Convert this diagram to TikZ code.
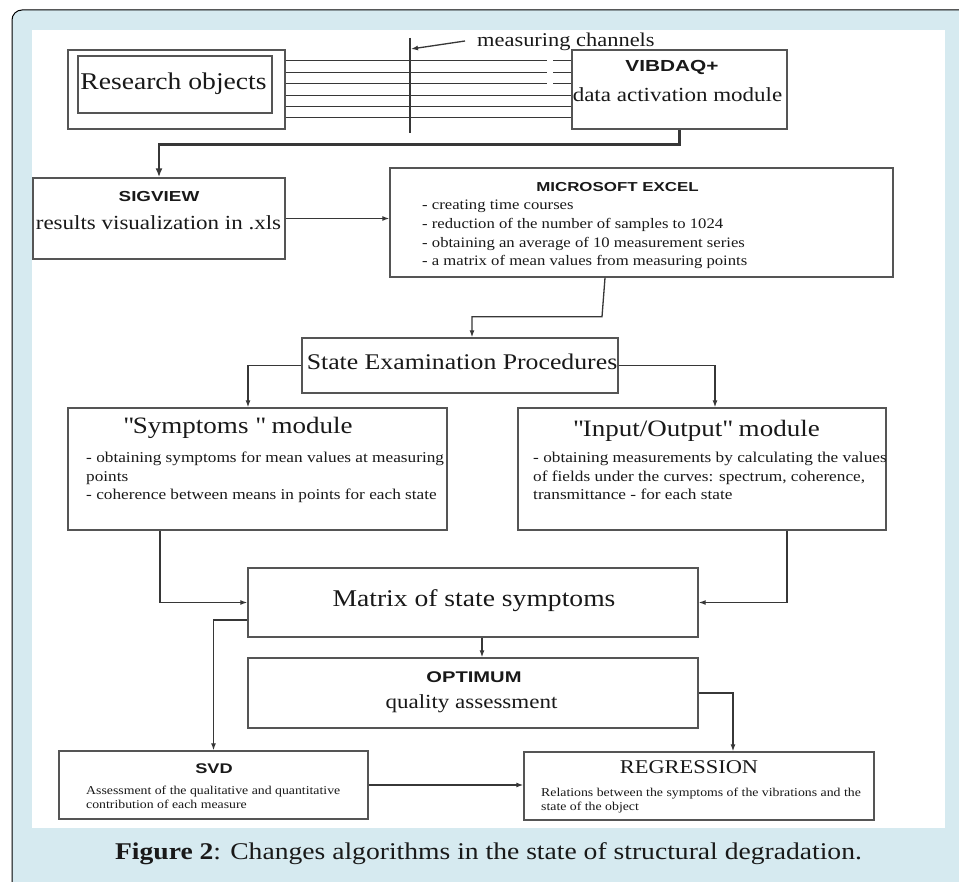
\documentclass[tikz,border=0pt]{standalone}
\usepackage{fontspec}
\setmainfont[FakeStretch=1.15]{Liberation Serif}
\newfontfamily\gothic[FakeStretch=1.3]{Liberation Sans}
\usetikzlibrary{arrows.meta}
\definecolor{capblue}{RGB}{214,234,240}
\definecolor{boxgray}{RGB}{85,85,85}
\definecolor{linegray}{RGB}{55,55,55}
\newcommand{\fs}[2]{\fontsize{#1}{#2}\selectfont}

\begin{document}
\begin{tikzpicture}[x=1pt,y=-1pt,
    box/.style={draw=boxgray,line width=1.4pt,inner sep=0pt},
    con/.style={draw=linegray,line width=1.3pt,->,>={Latex[length=7pt,width=5pt]}},
    txt/.style={inner sep=0pt,anchor=base,text=black!90},
    lst/.style={inner sep=0pt,anchor=north west,align=left,text=black!90}]
    \useasboundingbox (0,0) rectangle (959,882);
    \clip (0,0) rectangle (959,882);
    \fill[white] (0,0) rectangle (959,882);
    \draw[fill=capblue,rounded corners=10,line width=1pt] (12,10) rectangle (985,910);
    \fill[white] (32,30) rectangle (945,828);

    % boxes
    \node (robj) at (176.5,89.5) [box,minimum width=217,minimum height=79] {};
    \node (robjin) at (175,84.5) [box,minimum width=194,minimum height=57] {};
    \node (vib) at (679.5,89.5) [box,minimum width=215,minimum height=79] {};
    \node (sig) at (159,218.5) [box,minimum width=252,minimum height=81] {};
    \node (exc) at (641.5,222.5) [box,minimum width=503,minimum height=109] {};
    \node (sep) at (460,365.5) [box,minimum width=316,minimum height=55] {};
    \node (sym) at (257.5,469) [box,minimum width=379,minimum height=122] {};
    \node (io) at (702,469) [box,minimum width=368,minimum height=122] {};
    \node (mat) at (473,602.5) [box,minimum width=450,minimum height=69] {};
    \node (opt) at (473,693) [box,minimum width=450,minimum height=70] {};
    \node (svd) at (213.5,785) [box,minimum width=309,minimum height=68] {};
    \node (reg) at (699,786) [box,minimum width=350,minimum height=68] {};

    % texts
    \node (tro) at (173.5,90) [txt,font=\fs{24}{24}] {Research objects};
    \node (tvib) at (672,72) [txt,font=\gothic\bfseries\fs{16}{16}] {VIBDAQ+};
    \node (tvib2) at (677.5,102) [txt,font=\fs{20}{20}] {data activation module};
    \node (tsig) at (159,202) [txt,font=\gothic\bfseries\fs{14.5}{14.5}] {SIGVIEW};
    \node (tsig2) at (158.5,230) [txt,font=\fs{20}{20}] {results visualization in .xls};
    \node (texc) at (617.5,192) [txt,font=\gothic\bfseries\fs{13}{13}] {MICROSOFT EXCEL};
    \node (lexc) at (422,200) [lst,font=\fs{14.5}{18.7}] {- creating time courses\\
      - reduction of the number of samples to 1024\\
      - obtaining an average of 10 measurement series\\
      - a matrix of mean values from measuring points};
    \node (tsep) at (462,370) [txt,font=\fs{22.4}{22.4}] {State Examination Procedures};
    \node (tsym) at (238,434) [txt,font=\fs{23.5}{23.5}] {\textquotedbl Symptoms \textquotedbl{} module};
    \node (lsym) at (86,452) [lst,font=\fs{15}{18.5}] {- obtaining symptoms for mean values at measuring\\
      points\\
      - coherence between means in points for each state};
    \node (tio) at (696.5,437) [txt,font=\fs{23.5}{23.5}] {\textquotedbl Input/Output\textquotedbl{} module};
    \node (lio) at (533,452) [lst,font=\fs{15}{18.5}] {- obtaining measurements by calculating the values\\
      of fields under the curves: spectrum, coherence,\\
      transmittance - for each state};
    \node (tmat) at (474,606) [txt,font=\fs{24}{24}] {Matrix of state symptoms};
    \node (topt) at (474,682) [txt,font=\gothic\bfseries\fs{15.5}{15.5}] {OPTIMUM};
    \node (topt2) at (471.5,708) [txt,font=\fs{20}{20}] {quality assessment};
    \node (tsvd) at (214,773) [txt,font=\gothic\bfseries\fs{14}{14}] {SVD};
    \node (lsvd) at (86,786) [lst,font=\fs{12}{14}] {Assessment of the qualitative and quantitative\\
      contribution of each measure};
    \node (treg) at (689,773) [txt,font=\fs{19.5}{19.5}] {REGRESSION};
    \node (lreg) at (541,788) [lst,font=\fs{12}{14}] {Relations between the symptoms of the vibrations and the\\
      state of the object};

    % measuring channels
    \foreach \i in {0,...,5}{
      \pgfmathsetmacro{\yy}{61+11.4*\i}
      \ifnum\i<3
        \draw[draw=linegray,line width=1pt] (robj.east |- 0,\yy) -- (547,\yy);
        \draw[draw=linegray,line width=1pt] (553,\yy) -- (vib.west |- 0,\yy);
      \else
        \draw[draw=linegray,line width=1pt] (robj.east |- 0,\yy) -- (vib.west |- 0,\yy);
      \fi
    }
    \draw[draw=linegray,line width=1.2pt] (410,38) -- (410,133);
    \coordinate (chtail) at (465,41);
    \draw[con] (chtail) -- (411,49);
    \node (tch) at (477,47) [txt,anchor=base west,font=\fs{19.5}{19.5}] {measuring channels};

    % connectors
    \draw[con,line width=2.4pt,>={Latex[length=9pt,width=7pt]}] (vib.south) -- ++(0,15) -| (sig.north);
    \draw[con] (sig.east) -- (sig.east -| exc.west);
    \draw[con] ([xshift=-36.5]exc.south) -- ++(-3,39) -| ([xshift=12]sep.north);
    \draw[con] (sep.west) -| ([xshift=-9.5]sym.north);
    \draw[con] (sep.east) -| ([xshift=13]io.north);
    \draw[con] ([xshift=-97.5]sym.south) |- (mat.west);
    \draw[con] ([xshift=85]io.south) |- (mat.east);
    \draw[con] ([xshift=9]mat.south) -- ([xshift=9]opt.north);
    \draw[con] ([yshift=-17.5]mat.west) -| (svd.north);
    \draw[con] (opt.east) -| ([xshift=34]reg.north);
    \draw[con] (svd.east) -- (svd.east -| reg.west);

    % caption
    \node (cap) at (488.5,859) [txt,font=\fs{24}{24}] {\textbf{Figure 2}: Changes algorithms in the state of structural degradation.};
\end{tikzpicture}
\end{document}
